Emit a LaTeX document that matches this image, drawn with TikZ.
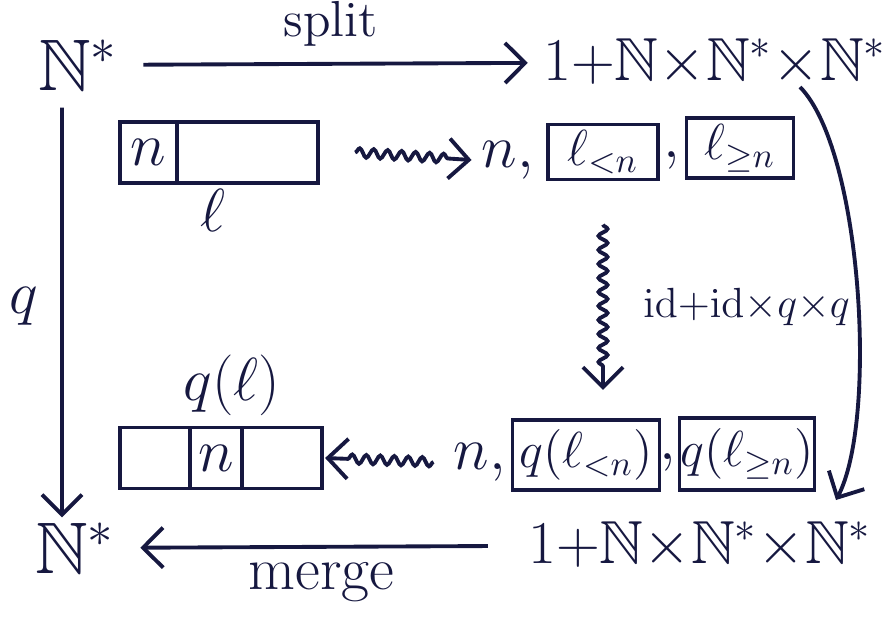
\documentclass[tikz,border=0pt]{standalone}
\usepackage{amssymb}
\usetikzlibrary{arrows.meta,positioning,decorations.pathmorphing}
\definecolor{ink}{RGB}{22,24,64}

\begin{document}
\begin{tikzpicture}[
    x=0.01cm, y=-0.01cm,
    ink, line width=1.1pt,
    cell/.style={draw=ink,rectangle,inner sep=0pt,outer sep=0pt,minimum height=0.61cm,font=\Large},
    lbl/.style={font=\LARGE,inner sep=1pt},
    squig/.style={decorate,decoration={snake,amplitude=0.45mm,segment length=1.4mm,post length=2mm}},
    >={Straight Barb[length=2mm,width=4mm]}
]
\useasboundingbox (0,0) rectangle (885,620);
% the four corners of the square
\node[lbl,font=\huge] (natTL) at (78,65) {$\mathbb{N}^*$};
\node[lbl] (sumTR) at (715,62) {$1{+}\mathbb{N}{\times}\mathbb{N}^*{\times}\mathbb{N}^*$};
\node[lbl,font=\huge] (natBL) at (75,548) {$\mathbb{N}^*$};
\node[lbl] (sumBR) at (700,545) {$1{+}\mathbb{N}{\times}\mathbb{N}^*{\times}\mathbb{N}^*$};
% top row: the list and its split
\node[cell,minimum width=0.57cm,font=\LARGE] (lhead) at (148.5,152.5) {$n$};
\node[cell,minimum width=1.41cm,right=0pt of lhead] (ltail) {};
\node[lbl] (ellname) at (213,210) {$\ell$};
\node[lbl] (ntop) at (508,160) {$n,$};
\node[cell,minimum width=1.1cm,minimum height=0.55cm] (lless) at (603,152) {$\ell_{<n}$};
\node[lbl] (ctop) at (672,160) {$,$};
\node[cell,minimum width=1.07cm,minimum height=0.6cm] (lgeq) at (740,148) {$\ell_{\geq n}$};
% bottom row: sorted parts and the merged list
\node[cell,minimum width=0.7cm] (qleft) at (155,458) {};
\node[cell,minimum width=0.52cm,right=0pt of qleft,font=\LARGE] (qmid) {$n$};
\node[cell,minimum width=0.8cm,right=0pt of qmid] (qright) {};
\node[lbl] (qname) at (232,385) {$q(\ell)$};
\node[lbl] (nbot) at (480,462) {$n,$};
\node[cell,minimum width=1.47cm,minimum height=0.7cm] (qless) at (586,455) {$q(\ell_{<n})$};
\node[lbl] (cbot) at (668,462) {$,$};
\node[cell,minimum width=1.35cm,minimum height=0.72cm] (qgeq) at (747,454) {$q(\ell_{\geq n})$};
% arrows of the square
\draw[->,shorten <=0.2cm,shorten >=0.1cm] (natTL) -- node[lbl,above=0.12cm,font=\Large]{split} (sumTR);
\draw[->,shorten <=0.12cm] ([xshift=-0.16cm]natTL.south) -- node[lbl,left=0.18cm]{$q$} ([xshift=-0.13cm]natBL.north);
\draw[->,shorten <=0.35cm,shorten >=0.2cm] (sumBR) -- node[lbl,below=0.1cm]{merge} (natBL);
\coordinate (bendA) at (800,87);
\coordinate (bendB) at (836,500);
\draw[->] (bendA) .. controls (862,150) and (878,420) .. (bendB);
% wavy arrows between the pictures
\draw[squig,->] ([xshift=0.37cm]ltail.east) -- ([xshift=-0.05cm]ntop.west);
\draw[squig,->] ([yshift=-0.45cm]lless.south) -- node[lbl,right=0.35cm,font=\large]{$\mathrm{id}{+}\mathrm{id}{\times}q{\times}q$} ([yshift=0.3cm]lless.south |- qless.north);
\draw[squig,->] ([xshift=-0.15cm]nbot.west) -- ([xshift=0.03cm]qright.east);
\end{tikzpicture}
\end{document}
